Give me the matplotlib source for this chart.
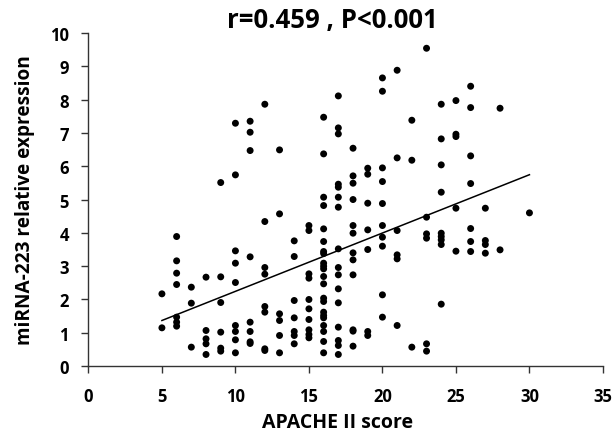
#!/usr/bin/env python3
# -*- coding: utf-8 -*-

import numpy as np
import matplotlib
matplotlib.use("Agg")
import matplotlib.pyplot as plt

# ===================== DATA =====================
TITLE = "r=0.459 , P<0.001"
XLABEL = "APACHE II score"
YLABEL = "miRNA-223 relative expression"

# APACHE II score (one entry per patient)
apache = (
    [5] * 2 + [6] * 7 + [7] * 3 + [8] * 5 + [9] * 6 + [10] * 9 + [11] * 8
    + [12] * 8 + [13] * 6 + [14] * 7 + [15] * 10 + [16] * 22 + [17] * 16
    + [18] * 12 + [19] * 7 + [20] * 10 + [21] * 6 + [22] * 3 + [23] * 6
    + [24] * 9 + [25] * 5 + [26] * 7 + [27] * 4 + [28] * 2 + [30] * 1
)

# miRNA-223 relative expression, same order as apache
mirna = [
    2.17, 1.15,                                                   # 5
    3.89, 3.16, 2.79, 2.45, 1.47, 1.32, 1.20,                     # 6
    2.37, 1.89, 0.57,                                             # 7
    2.67, 1.07, 0.82, 0.67, 0.35,                                 # 8
    5.51, 2.68, 1.91, 1.02, 0.54, 0.45,                           # 9
    7.29, 5.74, 3.46, 3.09, 2.51, 1.22, 1.04, 0.79, 0.40,         # 10
    7.35, 7.02, 6.47, 3.28, 1.32, 1.04, 0.73, 0.68,               # 11
    7.86, 4.34, 2.96, 2.76, 1.79, 1.62, 0.52, 0.47,               # 12
    6.49, 4.57, 1.57, 1.37, 0.92, 0.40,                           # 13
    3.76, 3.29, 1.97, 1.45, 1.04, 0.92, 0.67,                     # 14
    4.22, 4.07, 2.77, 2.64, 2.00, 1.72, 1.40, 1.09, 0.95, 0.85,   # 15
    7.47, 6.37, 5.07, 4.82, 4.12, 3.74, 3.44, 3.38, 3.09, 3.00,
    2.92, 2.69, 2.47, 2.04, 1.94, 1.62, 1.52, 1.45, 1.22, 1.04,
    0.74, 0.40,                                                   # 16
    8.11, 7.15, 6.97, 5.46, 5.37, 5.07, 4.77, 3.52, 2.96, 2.74,
    2.32, 1.90, 1.17, 0.77, 0.62, 0.35,                           # 17
    6.54, 5.71, 5.49, 5.00, 4.22, 3.99, 3.40, 3.19, 2.74, 1.09,
    1.05, 0.60,                                                   # 18
    5.94, 5.76, 4.89, 4.09, 3.50, 1.04, 0.92,                     # 19
    8.65, 8.25, 5.95, 5.54, 4.88, 4.22, 3.87, 3.60, 2.14, 1.47,   # 20
    8.88, 6.25, 4.07, 3.34, 3.22, 1.22,                           # 21
    7.38, 6.18, 0.57,                                             # 22
    9.54, 4.47, 3.97, 3.84, 0.67, 0.45,                           # 23
    7.86, 6.82, 6.04, 5.22, 3.99, 3.89, 3.79, 3.65, 1.86,         # 24
    7.97, 6.96, 6.89, 4.74, 3.45,                                 # 25
    8.40, 7.76, 6.31, 5.48, 4.13, 3.74, 3.44,                     # 26
    4.74, 3.77, 3.65, 3.39,                                       # 27
    7.74, 3.49,                                                   # 28
    4.60,                                                         # 30
]

# linear trend: y = slope * x + intercept
trend_slope = 0.175
trend_intercept = 0.495
trend_x = [5, 30]

x_ticks = [0, 5, 10, 15, 20, 25, 30, 35]
y_ticks = list(range(0, 11))
# ================================================

plt.rcParams["font.family"] = ["Open Sans", "DejaVu Sans"]
plt.rcParams["font.weight"] = "bold"

fig = plt.figure(figsize=(6.14, 4.35), dpi=100)
ax = fig.add_axes([0.144, 0.156, 0.838, 0.766])

x = np.asarray(apache, dtype=float)
y = np.asarray(mirna, dtype=float)

ax.scatter(x, y, s=25, color="black", edgecolors="none", zorder=3)

xl = np.asarray(trend_x, dtype=float)
ax.plot(xl, trend_slope * xl + trend_intercept, color="black", lw=1.1, zorder=2)

ax.set_xlim(0, 35)
ax.set_ylim(0, 10)
ax.set_xticks(x_ticks)
ax.set_yticks(y_ticks)
ax.set_xticklabels([str(t) for t in x_ticks], fontweight="bold")
ax.set_yticklabels([str(t) for t in y_ticks], fontweight="bold")

for side in ("top", "right"):
    ax.spines[side].set_visible(False)
for side in ("left", "bottom"):
    ax.spines[side].set_linewidth(1.0)
    ax.spines[side].set_color("#333333")

ax.tick_params(axis="both", direction="out", length=5, width=1.0,
               color="#333333", labelsize=12)
ax.tick_params(axis="x", pad=10)
ax.tick_params(axis="y", pad=9)

ax.set_xlabel(XLABEL, fontsize=14, fontweight="bold", labelpad=5, x=0.485)
ax.set_ylabel(YLABEL, fontsize=13.7, fontweight="bold", labelpad=11)
ax.set_title(TITLE, fontsize=18.5, fontweight="bold", pad=3, x=0.474)

fig.savefig("out.png", dpi=100)
